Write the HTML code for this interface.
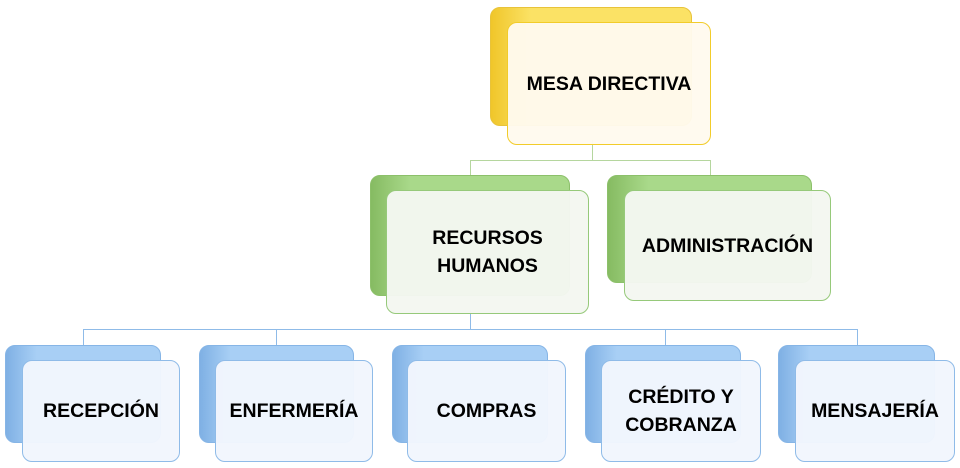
<!DOCTYPE html>
<html><head><meta charset="utf-8"><style>
body{margin:0;width:960px;height:468px;background:#fff;position:relative;overflow:hidden;font-family:"Liberation Sans",sans-serif}
.b,.f{position:absolute;border-radius:10px;box-sizing:border-box}
.f{display:flex;align-items:center;justify-content:center;text-align:center;font-weight:bold;font-size:19.5px;color:#000;line-height:28px}
.y{background:linear-gradient(90deg,#f0c62a,#fbe265 20%,#fbe265);border:1px solid #e8c33a}
.yf{background:rgba(255,250,238,0.96);border:1.5px solid #f2cc2a}
.g{background:linear-gradient(90deg,#86bb62,#a9d98a 20%,#a9d98a);border:1px solid #8cc06a}
.gf{background:rgba(244,247,241,0.97);border:1.5px solid #96c97a}
.bl{background:linear-gradient(90deg,#7fb0e4,#a8cff5 20%,#a8cff5);border:1px solid #86b5e6}
.bf{background:rgba(242,246,253,0.97);border:1.5px solid #8fbbe8}
.l{position:absolute}
</style></head><body>
<div class="l" style="left:592px;top:140px;width:1px;height:20px;background:#b5d69e"></div>
<div class="l" style="left:470px;top:160px;width:241px;height:1px;background:#b5d69e"></div>
<div class="l" style="left:470px;top:160px;width:1px;height:16px;background:#b5d69e"></div>
<div class="l" style="left:710px;top:160px;width:1px;height:16px;background:#b5d69e"></div>
<div class="l" style="left:470px;top:310px;width:1px;height:20px;background:#8fbbe8"></div>
<div class="l" style="left:83px;top:329px;width:775px;height:1px;background:#8fbbe8"></div>
<div class="l" style="left:83px;top:329px;width:1px;height:17px;background:#8fbbe8"></div>
<div class="l" style="left:276px;top:329px;width:1px;height:17px;background:#8fbbe8"></div>
<div class="l" style="left:665px;top:329px;width:1px;height:17px;background:#8fbbe8"></div>
<div class="l" style="left:857px;top:329px;width:1px;height:17px;background:#8fbbe8"></div>

<div class="b y" style="left:490px;top:7px;width:202px;height:119px"></div>
<div class="f yf" style="left:507px;top:22px;width:204px;height:123px">MESA DIRECTIVA</div>

<div class="b g" style="left:370px;top:175px;width:200px;height:121px"></div>
<div class="f gf" style="left:386px;top:190px;width:203px;height:124px">RECURSOS<br>HUMANOS</div>
<div class="b g" style="left:607px;top:175px;width:205px;height:108px"></div>
<div class="f gf" style="left:624px;top:190px;width:207px;height:111px">ADMINISTRACIÓN</div>

<div class="b bl" style="left:5px;top:345px;width:156px;height:98px"></div>
<div class="f bf" style="left:22px;top:360px;width:158px;height:102px">RECEPCIÓN</div>
<div class="b bl" style="left:199px;top:345px;width:155px;height:98px"></div>
<div class="f bf" style="left:215px;top:360px;width:158px;height:102px">ENFERMERÍA</div>
<div class="b bl" style="left:392px;top:345px;width:156px;height:98px"></div>
<div class="f bf" style="left:407px;top:360px;width:159px;height:102px">COMPRAS</div>
<div class="b bl" style="left:585px;top:345px;width:156px;height:98px"></div>
<div class="f bf" style="left:601px;top:360px;width:160px;height:102px">CRÉDITO Y<br>COBRANZA</div>
<div class="b bl" style="left:778px;top:345px;width:157px;height:98px"></div>
<div class="f bf" style="left:795px;top:360px;width:160px;height:102px">MENSAJERÍA</div>
</body></html>
